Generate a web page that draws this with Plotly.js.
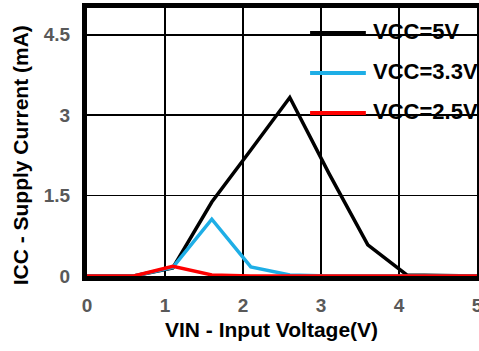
<!DOCTYPE html>
<html>
<head>
<meta charset="utf-8">
<script src="https://cdn.plot.ly/plotly-3.0.1.min.js"></script>
<style>html,body{margin:0;padding:0;background:#fff;}#chart{width:479px;height:351px;}</style>
</head>
<body>
<div id="chart"></div>
<script>
var vin = [0, 0.6, 1.1, 1.6, 2.1, 2.6, 3.1, 3.6, 4.1, 4.6, 5.0];
var icc5 = [0, 0, 0.15, 1.38, 2.35, 3.33, 1.92, 0.58, 0.02, 0, 0];
var icc33 = [0, 0, 0.16, 1.06, 0.17, 0.02, 0, 0, 0, 0, 0];
var icc25 = [0, 0, 0.18, 0.02, 0, 0, 0, 0, 0, 0, 0];
var seriesNames = ['VCC=5V', 'VCC=3.3V', 'VCC=2.5V'];
var seriesColors = ['#000000', '#1EAEE6', '#FF0000'];
var xTicks = [0, 1, 2, 3, 4, 5];
var yTicks = [0, 1.5, 3, 4.5];
var yTickText = ['0', '1.5', '3', '4.5'];
var xTitle = 'VIN - Input Voltage(V)';
var yTitle = 'ICC - Supply Current (mA)';

var FONT = 'Liberation Sans, Arial';
var ys = [icc5, icc33, icc25];
var traces = ys.map(function (y, i) {
  return {x: vin, y: y, mode: 'lines', name: seriesNames[i],
    line: {color: seriesColors[i], width: 3.5}, showlegend: false, cliponaxis: false};
});

var legY = [0.907, 0.757, 0.608];
var shapes = [], annotations = [];
for (var i = 0; i < 3; i++) {
  shapes.push({type: 'line', xref: 'paper', yref: 'paper', x0: 0.572, x1: 0.715,
    y0: legY[i], y1: legY[i], line: {color: seriesColors[i], width: 4}});
  annotations.push({xref: 'paper', yref: 'paper', x: 0.727, y: legY[i] + 0.006, xanchor: 'left', yanchor: 'middle',
    text: '<b>' + seriesNames[i] + '</b>', showarrow: false,
    font: {family: FONT, size: 22, color: '#000'}});
}
annotations.push({xref: 'paper', yref: 'paper', x: 0.472, y: -0.2, xanchor: 'center', yanchor: 'middle',
  text: '<b>' + xTitle + '</b>', showarrow: false, font: {family: FONT, size: 21, color: '#000'}});
annotations.push({xref: 'paper', yref: 'paper', x: -0.172, y: 0.45, xanchor: 'center', yanchor: 'middle',
  text: '<b>' + yTitle + '</b>', showarrow: false, textangle: -90, font: {family: FONT, size: 21, color: '#000'}});

var axisCommon = {range: [0, 5], showgrid: true, gridcolor: '#000', gridwidth: 1.5, zeroline: false,
  showline: true, linecolor: '#000', linewidth: 5, mirror: true, layer: 'below traces',
  ticks: '', ticklabelstandoff: 8, ticklabeloverflow: 'allow',
  tickfont: {family: FONT, size: 19, color: '#595959', weight: 'bold'}};

var layout = {
  width: 479, height: 351,
  margin: {l: 87, r: 2, t: 8, b: 75},
  paper_bgcolor: '#fff', plot_bgcolor: '#fff',
  showlegend: false,
  xaxis: Object.assign({}, axisCommon, {tickvals: xTicks, ticktext: xTicks.map(String)}),
  yaxis: Object.assign({}, axisCommon, {tickvals: yTicks, ticktext: yTickText}),
  shapes: shapes,
  annotations: annotations
};

Plotly.newPlot('chart', traces, layout, {staticPlot: true, displayModeBar: false});
</script>
</body>
</html>
